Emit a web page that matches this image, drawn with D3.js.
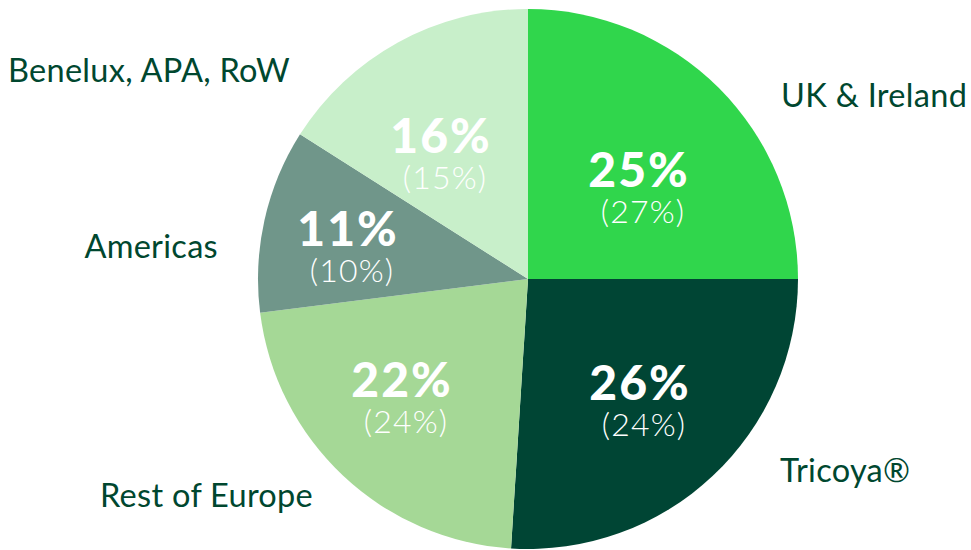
<!DOCTYPE html>
<html>
<head>
<meta charset="utf-8">
<script src="https://cdn.jsdelivr.net/npm/d3@7"></script>
<style>
  html, body { margin: 0; padding: 0; background: #ffffff; }
  svg { display: block; }
  text { font-family: Lato, "Open Sans", sans-serif; }
</style>
</head>
<body>
<svg id="chart" width="971" height="550"></svg>
<script>
// ---- data ----
const categories = ["UK & Ireland", "Tricoya®", "Rest of Europe", "Americas", "Benelux, APA, RoW"];
const currentShare = [25, 26, 22, 11, 16];
const previousShare = [27, 24, 24, 10, 15];
const colors = ["#30d64c", "#004534", "#a5d896", "#70968a", "#c8efca"];

// ---- layout ----
const W = 971, H = 550;
const cx = 528, cy = 279, R = 270;
// label positions for the slice values (dx, dy from centre)
const innerPos = [[111, -92], [112, 121], [-126, 118], [-180, -33], [-87, -126]];
// outside category labels: x, y, anchor
const outerPos = [[781, 107, "start"], [780, 482, "start"], [100, 507, "start"], [218, 258, "end"], [290, 82, "end"]];

const svg = d3.select("#chart");
const g = svg.append("g").attr("transform", `translate(${cx},${cy})`);

const data = categories.map((c, i) => ({ name: c, value: currentShare[i], prev: previousShare[i], color: colors[i], i }));

const pie = d3.pie().value(d => d.value).sort(null);
const arc = d3.arc().innerRadius(0).outerRadius(R);
const arcs = pie(data);

g.selectAll("path.slice")
  .data(arcs)
  .join("path")
  .attr("class", "slice")
  .attr("d", arc)
  .attr("fill", d => d.data.color);

const lbl = g.selectAll("g.lbl")
  .data(arcs)
  .join("g")
  .attr("class", "lbl")
  .attr("transform", d => `translate(${innerPos[d.data.i][0]},${innerPos[d.data.i][1]})`);

lbl.append("text")
  .attr("text-anchor", "middle")
  .attr("y", 0)
  .attr("font-size", 48)
  .attr("font-weight", 900)
  .attr("letter-spacing", 2)
  .attr("fill", "#ffffff")
  .text(d => d.data.value + "%");

lbl.append("text")
  .attr("text-anchor", "middle")
  .attr("x", 4)
  .attr("y", 36)
  .attr("font-size", 32)
  .attr("font-weight", 300)
  .attr("letter-spacing", 1.2)
  .attr("fill", "#ffffff")
  .text(d => "(" + d.data.prev + "%)");

svg.selectAll("text.cat")
  .data(data)
  .join("text")
  .attr("class", "cat")
  .attr("x", d => outerPos[d.i][0])
  .attr("y", d => outerPos[d.i][1])
  .attr("text-anchor", d => outerPos[d.i][2])
  .attr("font-size", 32.5)
  .attr("font-weight", 400)
  .attr("letter-spacing", 0.3)
  .attr("fill", "#00472f")
  .text(d => d.name);
</script>
</body>
</html>
